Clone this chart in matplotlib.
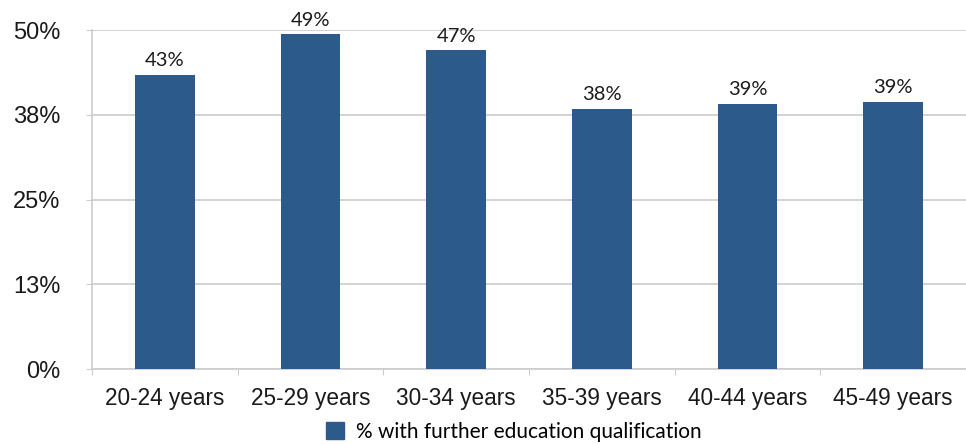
import matplotlib
matplotlib.use('Agg')
import matplotlib.pyplot as plt
import numpy as np
from matplotlib.patches import Patch

# age bands and share with a further education qualification (%)
age_groups = ["20-24 years", "25-29 years", "30-34 years",
              "35-39 years", "40-44 years", "45-49 years"]
pct_further_ed = [43.4, 49.4, 47.0, 38.4, 39.1, 39.4]
y_ticks = [0, 12.5, 25, 37.5, 50]
series_name = "% with further education qualification"

bar_color = "#2b5a8b"
grid_color = "#cccccc"

fig = plt.figure(figsize=(9.66, 4.44), dpi=100)
ax = fig.add_axes([92 / 966, 1 - 369 / 444, 874 / 966, 339 / 444])

x = np.arange(len(age_groups))
bars = ax.bar(x, pct_further_ed, width=0.41, color=bar_color, zorder=3)

for b, v in zip(bars, pct_further_ed):
    ax.annotate(f"{v:.0f}%", (b.get_x() + b.get_width() / 2, v),
                xytext=(0, 4), textcoords="offset points",
                ha="center", va="bottom", fontsize=14.5,
                family=["Lato", "DejaVu Sans"], color="#1a1a1a")

ax.set_xlim(-0.5, len(age_groups) - 0.5)
ax.set_ylim(0, 50)

# y axis: percent labels rounded to whole numbers
ax.set_yticks(y_ticks)
ax.set_yticklabels([f"{t:.0f}%" if t != 12.5 else "13%" for t in y_ticks])
ax.tick_params(axis="y", length=4.5, color=grid_color, pad=18,
               labelsize=17, labelcolor="#1a1a1a")
for lab in ax.get_yticklabels():
    lab.set_family("Liberation Sans")

# x axis: ticks at category boundaries, labels at centres
ax.set_xticks(np.arange(-0.5, len(age_groups)), labels=[""] * (len(age_groups) + 1))
ax.set_xticks(x, labels=age_groups, minor=True)
ax.tick_params(axis="x", which="major", length=4.5, color=grid_color)
ax.tick_params(axis="x", which="minor", length=0, pad=13,
               labelsize=16.3, labelcolor="#1a1a1a")
for lab in ax.get_xticklabels(minor=True):
    lab.set_family("Liberation Sans")

ax.yaxis.grid(True, color=grid_color, linewidth=1.2, zorder=0)
ax.set_axisbelow(True)
for side in ["top", "right"]:
    ax.spines[side].set_visible(False)
for side in ["left", "bottom"]:
    ax.spines[side].set_color(grid_color)
    ax.spines[side].set_linewidth(1.2)

fig.legend(handles=[Patch(color=bar_color, label=series_name)],
           loc="center", bbox_to_anchor=(514 / 966, 1 - 432 / 444),
           frameon=False, handlelength=0.85, handleheight=0.85,
           handletextpad=0.6, prop={"family": "Lato", "size": 15})

fig.savefig("out.png", dpi=100)
